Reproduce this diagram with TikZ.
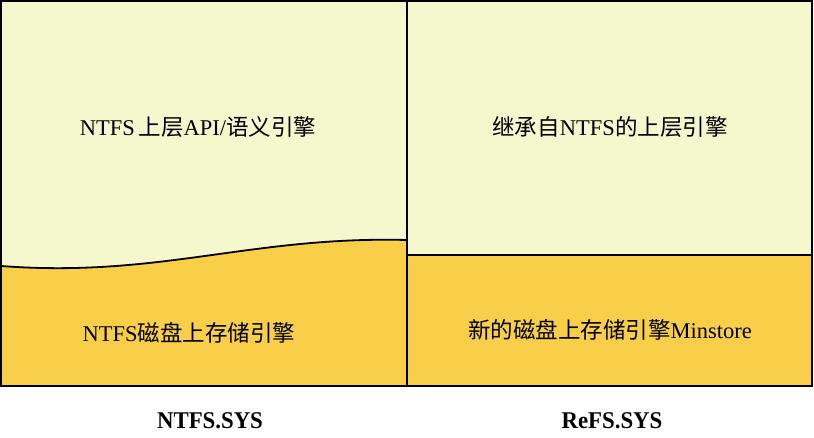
\documentclass[tikz,border=0pt]{standalone}
\usepackage{fontspec}
\setmainfont{Liberation Serif}
\newfontfamily\cjk{Noto Sans CJK SC}
\definecolor{lightyel}{HTML}{F5F7CC}
\definecolor{goldyel}{HTML}{F9CF4A}
\begin{document}
\begin{tikzpicture}[x=1pt,y=-1pt,
  boxline/.style={draw=black,line width=1.8pt},
  lbl/.style={font=\fontsize{22.5}{26}\selectfont, inner sep=0pt},
  foot/.style={font=\fontsize{24}{26}\selectfont\bfseries, inner sep=0pt, xscale=0.95}]
\useasboundingbox (0,0) rectangle (814,438);
% left panel
\fill[lightyel] (1,1) rectangle (407,386);
\fill[goldyel] (1,266) .. controls (160,278) and (250,236) .. (407,240) -- (407,386) -- (1,386) -- cycle;
\draw[line width=1.8pt] (1,266) .. controls (160,278) and (250,236) .. (407,240);
% right panel
\fill[lightyel] (407,1) rectangle (812,255);
\fill[goldyel] (407,255) rectangle (812,386);
\draw[boxline] (407,255) -- (812,255);
\draw[boxline] (407,1) -- (407,386);
\draw[boxline] (1,1) rectangle (812,386);
% texts
\node[lbl] (t1) at (198,127) {NTFS\,{\cjk 上层}API/{\cjk 语义引擎}};
\node[lbl] (t2) at (610,127) {{\cjk 继承自}NTFS{\cjk 的上层引擎}};
\node[lbl] (t3) at (189,333) {NTFS{\cjk 磁盘上存储引擎}};
\node[lbl] (t4) at (610,330) {{\cjk 新的磁盘上存储引擎}Minstore};
\node[foot] (f1) at (210,421) {NTFS.SYS};
\node[foot] (f2) at (612,421) {ReFS.SYS};
\end{tikzpicture}
\end{document}
